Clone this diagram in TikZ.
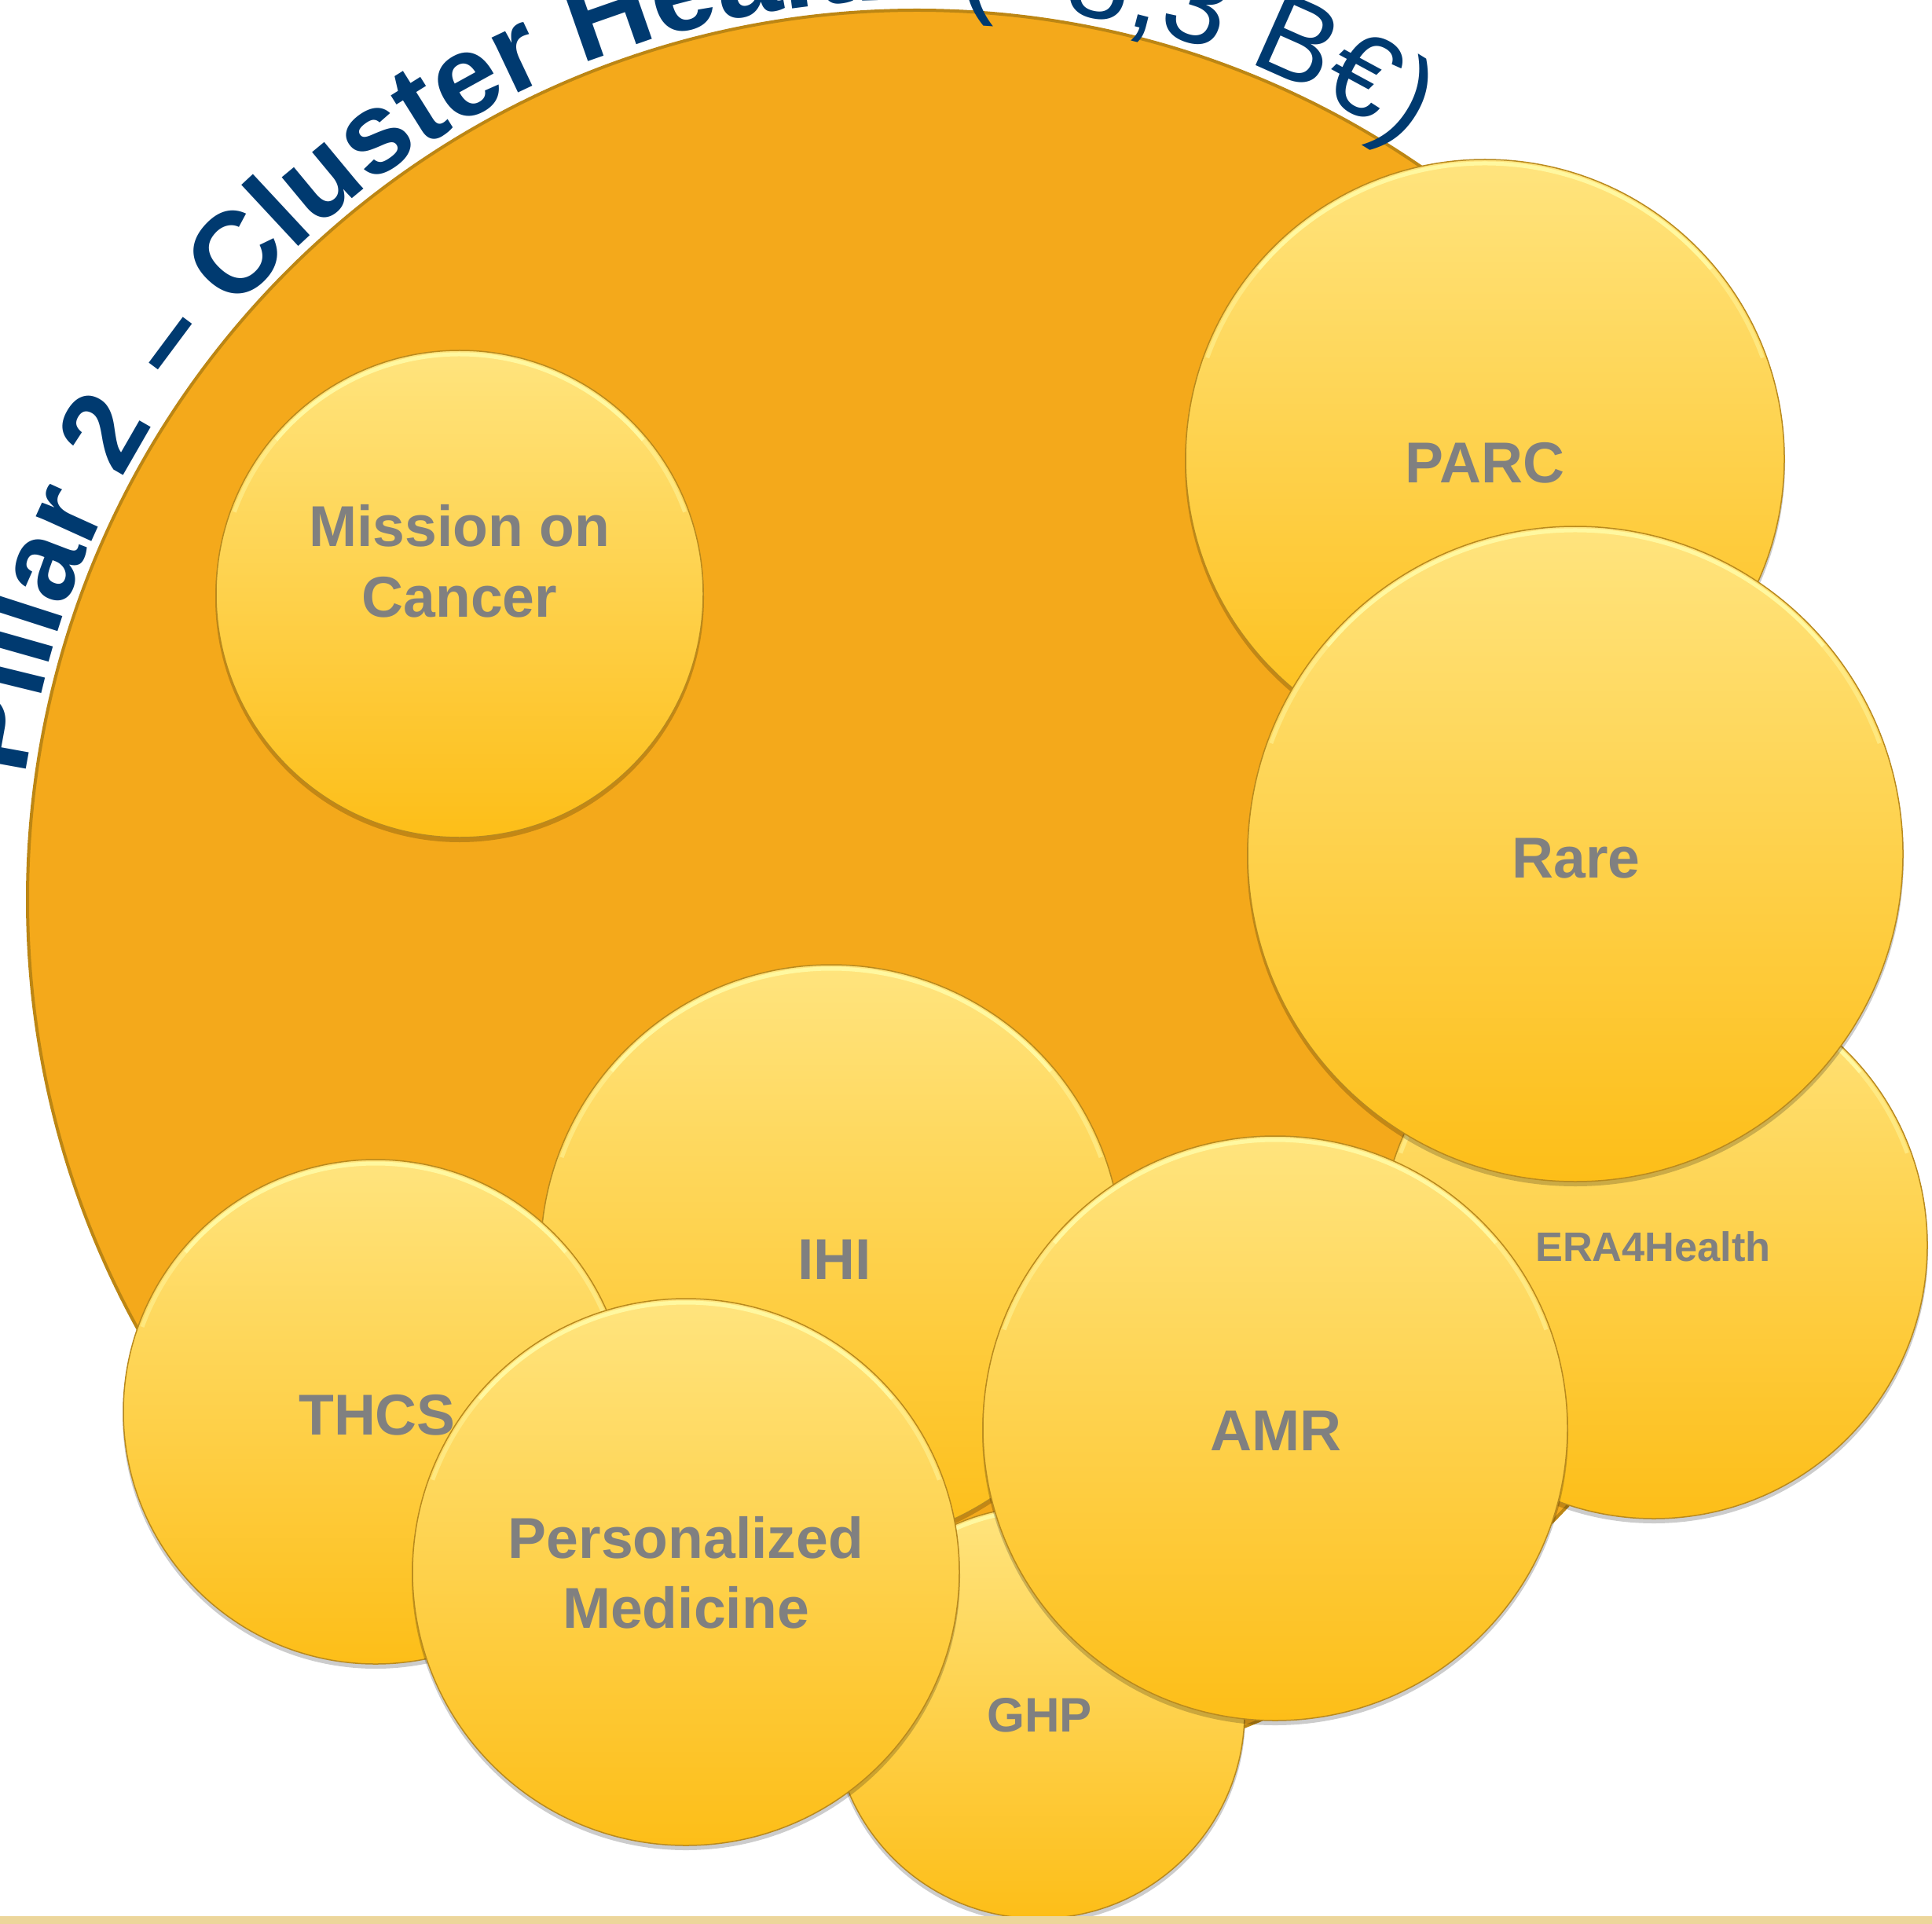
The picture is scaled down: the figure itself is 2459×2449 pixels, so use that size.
\documentclass[tikz,border=0pt]{standalone}
\usepackage{fontspec}
\setmainfont{Liberation Sans}
\usetikzlibrary{decorations.text}
\definecolor{bigfill}{HTML}{F4A91B}
\definecolor{bigrim}{HTML}{BC8614}
\definecolor{ytop}{HTML}{FFE47E}
\definecolor{ybot}{HTML}{FDBE18}
\definecolor{yrim}{HTML}{B98A1E}
\definecolor{yhl}{HTML}{FFF8A0}
\definecolor{titleblue}{HTML}{003A70}
\definecolor{labgray}{HTML}{808080}
\definecolor{stripcol}{HTML}{ECD69B}
\newcommand\titlefont{\fontsize{44}{50}\selectfont}
\newcommand\bub[4]{%
  \fill[bshadow] (#2,{-#3-5}) circle ({#4+1});
  \shadedraw[bubble] (#2,-#3) circle (#4);
  \draw[bhl] (#2,-#3) ++(140:{#4-5}) arc[start angle=140,end angle=40,radius={#4-5}];
  \draw[bhl, opacity=0.5] (#2,-#3) ++(160:{#4-5}) arc[start angle=160,end angle=140,radius={#4-5}];
  \draw[bhl, opacity=0.5] (#2,-#3) ++(40:{#4-5}) arc[start angle=40,end angle=20,radius={#4-5}];
  \coordinate (#1) at (#2,-#3);
}
\tikzset{
  bubble/.style={top color=ytop, bottom color=ybot, draw=yrim, line width=0.45pt},
  bshadow/.style={fill=black, opacity=0.2},
  bhl/.style={draw=yhl, line width=1.5pt},
  lab/.style={text=labgray, font=\fontsize{22}{26}\selectfont\bfseries, anchor=base, inner sep=0pt},
  labera/.style={lab, font=\fontsize{15.7}{19}\selectfont\bfseries},
  labghp/.style={lab, font=\fontsize{18.5}{22}\selectfont\bfseries},
}
\begin{document}
\begin{tikzpicture}[x=0.3pt,y=0.3pt]
\useasboundingbox (0,0) rectangle (2459,-2449);
\clip (0,0) rectangle (2459,-2449);
% big circle
\filldraw[fill=bigfill, draw=bigrim, line width=1.2pt] (1167,-1145) circle (1132);
\coordinate (big) at (1167,-1145);
% curved title
\path[decorate, decoration={text along path, text align=center, text color=titleblue,
  text={|\titlefont\bfseries|Pillar 2{\kern4pt} – Cluster Health |\titlefont\mdseries|({\textasciitilde}8,3 B€)}}]
  (big) ++(172:1145) arc[start angle=172, end angle=57.2, radius=1145];
% bubbles
\bub{cMis}{585}{756}{310}
\node[lab] (lMis1) at (585,-695) {Mission on};
\node[lab] (lMis2) at (585,-785) {Cancer};
\bub{cPARC}{1890}{584}{381}
\node[lab] (lPARC) at (1890,-615) {PARC};
\bub{cERA}{2105}{1585}{348}
\node[labera] (lERA) at (2104,-1605) {ERA4Health};
\bub{cRare}{2005}{1087}{417}
\node[lab] (lRare) at (2006,-1117) {Rare};
\bub{cIHI}{1058}{1598}{370}
\node[lab] (lIHI) at (1062,-1628) {IHI};
\bub{cTHCS}{478}{1797}{321}
\node[lab] (lTHCS) at (480,-1826) {THCS};
\bub{cGHP}{1322}{2180}{262}
\node[labghp] (lGHP) at (1323,-2204) {GHP};
\bub{cPM}{873}{2001}{348}
\node[lab] (lPM1) at (873,-1983) {Personalized};
\node[lab] (lPM2) at (873,-2072) {Medicine};
\bub{cAMR}{1623}{1818}{372}
\node[lab] (lAMR) at (1624,-1846) {AMR};
% bottom strip
\fill[stripcol] (0,-2439) rectangle (2459,-2449);
\end{tikzpicture}
\end{document}
